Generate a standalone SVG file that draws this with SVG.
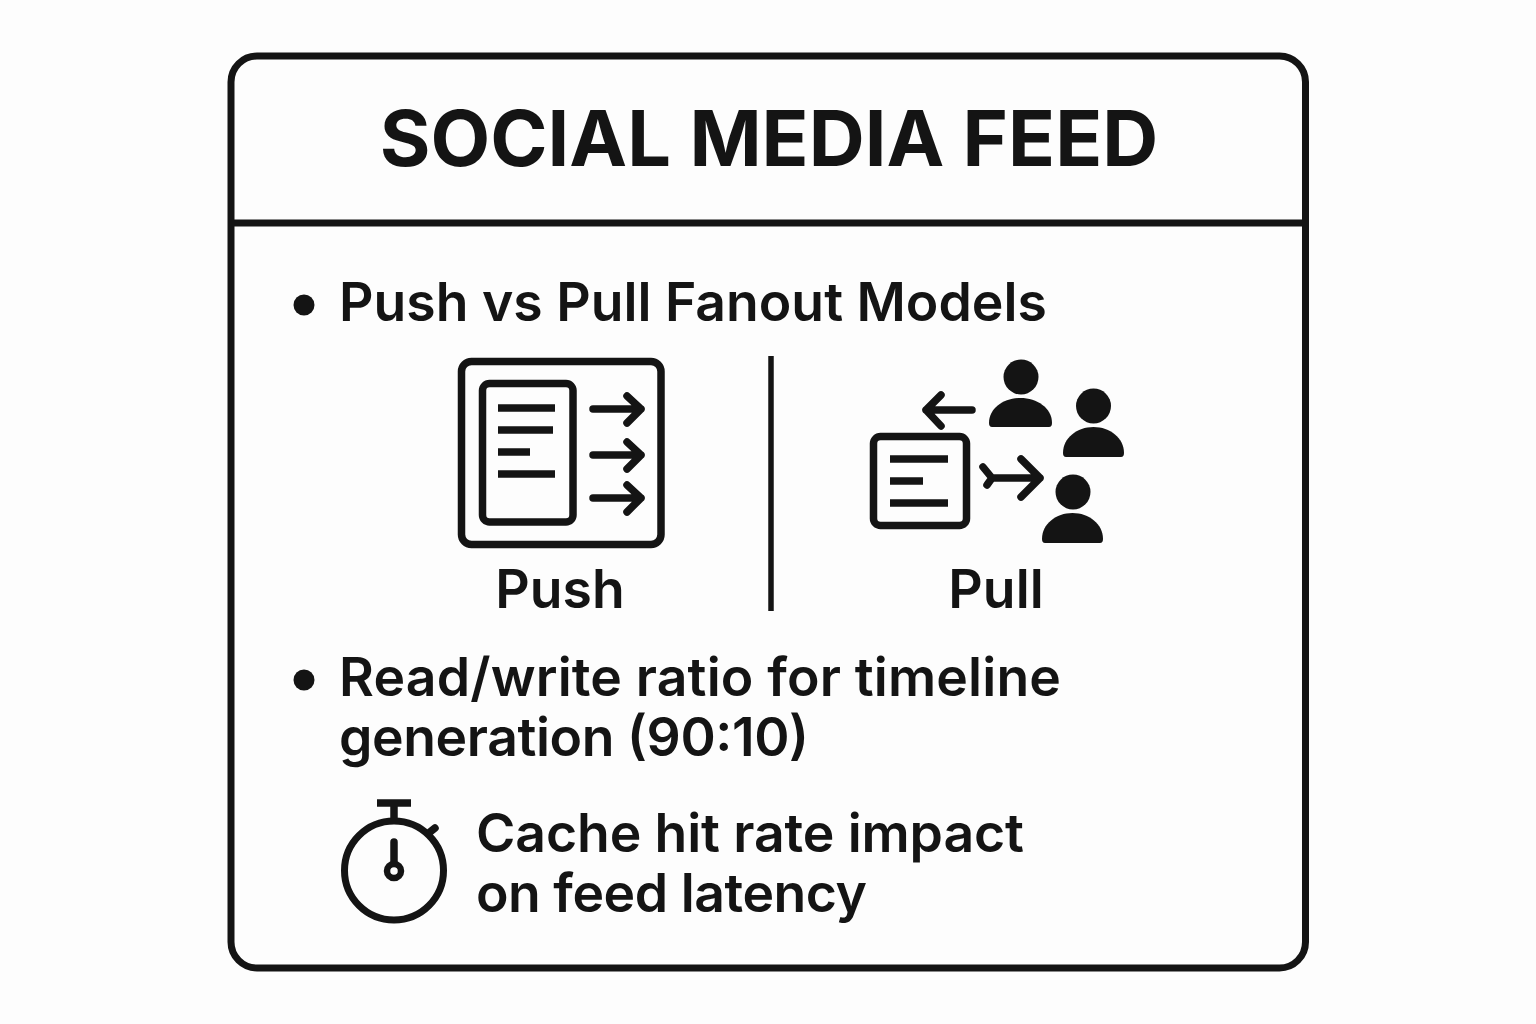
<svg xmlns="http://www.w3.org/2000/svg" width="1536" height="1024" viewBox="0 0 1536 1024">
<style>
.t{font-family:Inter,"Liberation Sans",sans-serif;font-weight:600;font-size:53.5px;fill:#141414}
.s{fill:none;stroke:#141414;stroke-width:7.5}
.r{stroke-linecap:round;stroke-linejoin:round}
.f{fill:#141414}
</style>
<rect width="1536" height="1024" fill="#fdfdfd"/>
<g id="frame">
<rect class="s" style="stroke-width:7" x="231" y="56" width="1074.500" height="912" rx="26"/>
<path class="s" style="stroke-width:7" d="M231 223H1305"/>
</g>
<g id="title"><text class="t" x="769" y="166" text-anchor="middle" style="font-size:77.500px;font-weight:700">SOCIAL MEDIA FEED</text></g>
<g id="bullet-1"><circle class="f" cx="304" cy="305" r="10.500"/><text class="t" x="339" y="321">Push vs Pull Fanout Models</text></g>
<g id="push">
<rect class="s" x="461.5" y="361.5" width="199.500" height="183" rx="10"/>
<rect class="s" x="482.5" y="383.5" width="90.500" height="138.500" rx="7"/>
<path class="s" d="M498 408H555M498 430H553M498 452H530M498 474H555"/>
<path class="s r" d="M593 409H641M627 396L641 409L627 423M593 455H641M627 442L641 455L627 469M593 498H641M627 485L641 498L627 512"/>
<text class="t" x="560" y="608" text-anchor="middle">Push</text>
</g>
<g id="divider"><path class="s" style="stroke-width:5.500" d="M771 356V611"/></g>
<g id="pull">
<rect class="s" x="873.5" y="436.5" width="93" height="89" rx="7"/>
<path class="s" d="M890 459H948M890 481H923M890 503H948"/>
<path class="s r" d="M972 410H926M941 395L926 410L941 426"/>
<path class="s r" d="M983 467L992 478L987 485M992 478H1040M1021 459L1040 478L1021 497"/>
<g id="user-1"><circle class="f" cx="1021" cy="377" r="17.500"/><path class="f" d="M992 427Q989 427 989 423C989 408 1004 398 1020.500 398C1037 398 1052 408 1052 423Q1052 427 1049 427Z"/></g>
<g id="user-2"><circle class="f" cx="1093.500" cy="406" r="17.500"/><path class="f" d="M1066 457Q1063 457 1063 453C1063 438 1077 427 1093.500 427C1110 427 1124 438 1124 453Q1124 457 1121 457Z"/></g>
<g id="user-3"><circle class="f" cx="1073" cy="492" r="17.500"/><path class="f" d="M1045 543Q1042 543 1042 539C1042 524 1056 513 1072.500 513C1089 513 1103 524 1103 539Q1103 543 1100 543Z"/></g>
<text class="t" x="996" y="608" text-anchor="middle">Pull</text>
</g>
<g id="bullet-2"><circle class="f" cx="304" cy="680" r="10.500"/><text class="t" x="339" y="696" textLength="722">Read/write ratio for timeline</text><text class="t" x="339" y="756" textLength="470">generation (90:10)</text></g>
<g id="stopwatch">
<circle class="s" style="stroke-width:7" cx="394" cy="870.500" r="49.500"/>
<path class="s" d="M377 803H411M394 803V822"/>
<path class="s r" d="M430 832L435 828M394 842V863"/>
<circle class="s" style="stroke-width:6.500" cx="394" cy="871" r="7"/>
</g>
<g id="cache"><text class="t" x="476" y="852" textLength="548">Cache hit rate impact</text><text class="t" x="476" y="912" textLength="391">on feed latency</text></g>
</svg>
